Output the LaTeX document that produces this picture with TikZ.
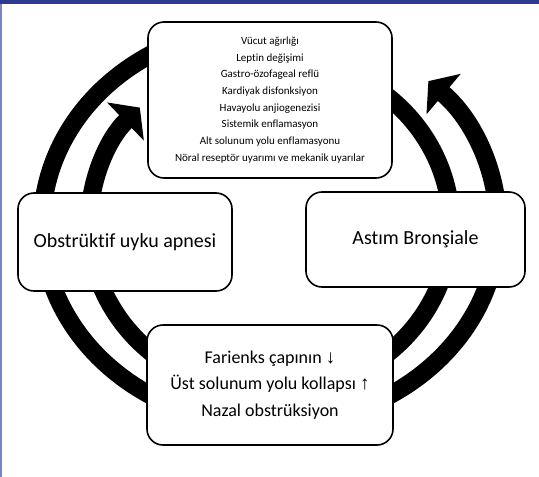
\documentclass[tikz,border=0pt]{standalone}
\usepackage{fontspec}
\setmainfont{Carlito}[Ligatures=NoCommon]
\newfontfamily\arrowfont{Liberation Sans}
\usetikzlibrary{arrows.meta}
\definecolor{framebar}{HTML}{2E3A8F}
\definecolor{frameside}{HTML}{7A85C8}

\begin{document}
\begin{tikzpicture}[x=1pt,y=1pt,
  every node/.style={draw=black,line width=1.6pt,rounded corners=16pt,fill=white,align=center,inner sep=0pt},
  big/.style={font=\fontsize{20}{24}\selectfont},
  ring/.style={line width=18pt,black},
  >={Triangle[width=52pt,length=20pt]}]
\useasboundingbox (0,0) rectangle (539,-477);
\fill[frameside] (0,0) rectangle (2,-477);
\fill[framebar] (0,0) rectangle (539,-4);
\coordinate (o) at (270,-225);
% outer ring
\draw[ring] ([shift={(120:228 and 200)}]o) arc[start angle=120,end angle=240,x radius=228,y radius=200];
\draw[ring,->] ([shift={(-60:228 and 200)}]o) arc[start angle=-60,end angle=46,x radius=228,y radius=200];
% inner ring
\draw[ring,->] ([shift={(240:181 and 169)}]o) arc[start angle=240,end angle=136,x radius=181,y radius=169];
\draw[ring] ([shift={(60:181 and 169)}]o) arc[start angle=60,end angle=-60,x radius=181,y radius=169];
% boxes
\node[minimum width=244pt,minimum height=156pt,font=\fontsize{11}{16.7}\selectfont] (risk) at (270,-100)
  {Vücut ağırlığı\\Leptin değişimi\\Gastro-özofageal reflü\\Kardiyak disfonksiyon\\Havayolu anjiogenezisi\\Sistemik enflamasyon\\Alt solunum yolu enflamasyonu\\Nöral reseptör uyarımı ve mekanik uyarılar};
\node[big,minimum width=214pt,minimum height=98pt] (osa) at (125,-242) {Obstrüktif uyku apnesi};
\node[big,minimum width=219pt,minimum height=95pt] (asthma) at (415.5,-239.5) {Astım Bronşiale};
\node[minimum width=246pt,minimum height=120pt,font=\fontsize{18}{26.7}\selectfont] (airway) at (270,-385)
  {Farienks çapının {\arrowfont\fontsize{19}{18}\selectfont ↓}\\Üst solunum yolu kollapsı {\arrowfont\fontsize{19}{18}\selectfont ↑}\\Nazal obstrüksiyon};
\end{tikzpicture}
\end{document}
